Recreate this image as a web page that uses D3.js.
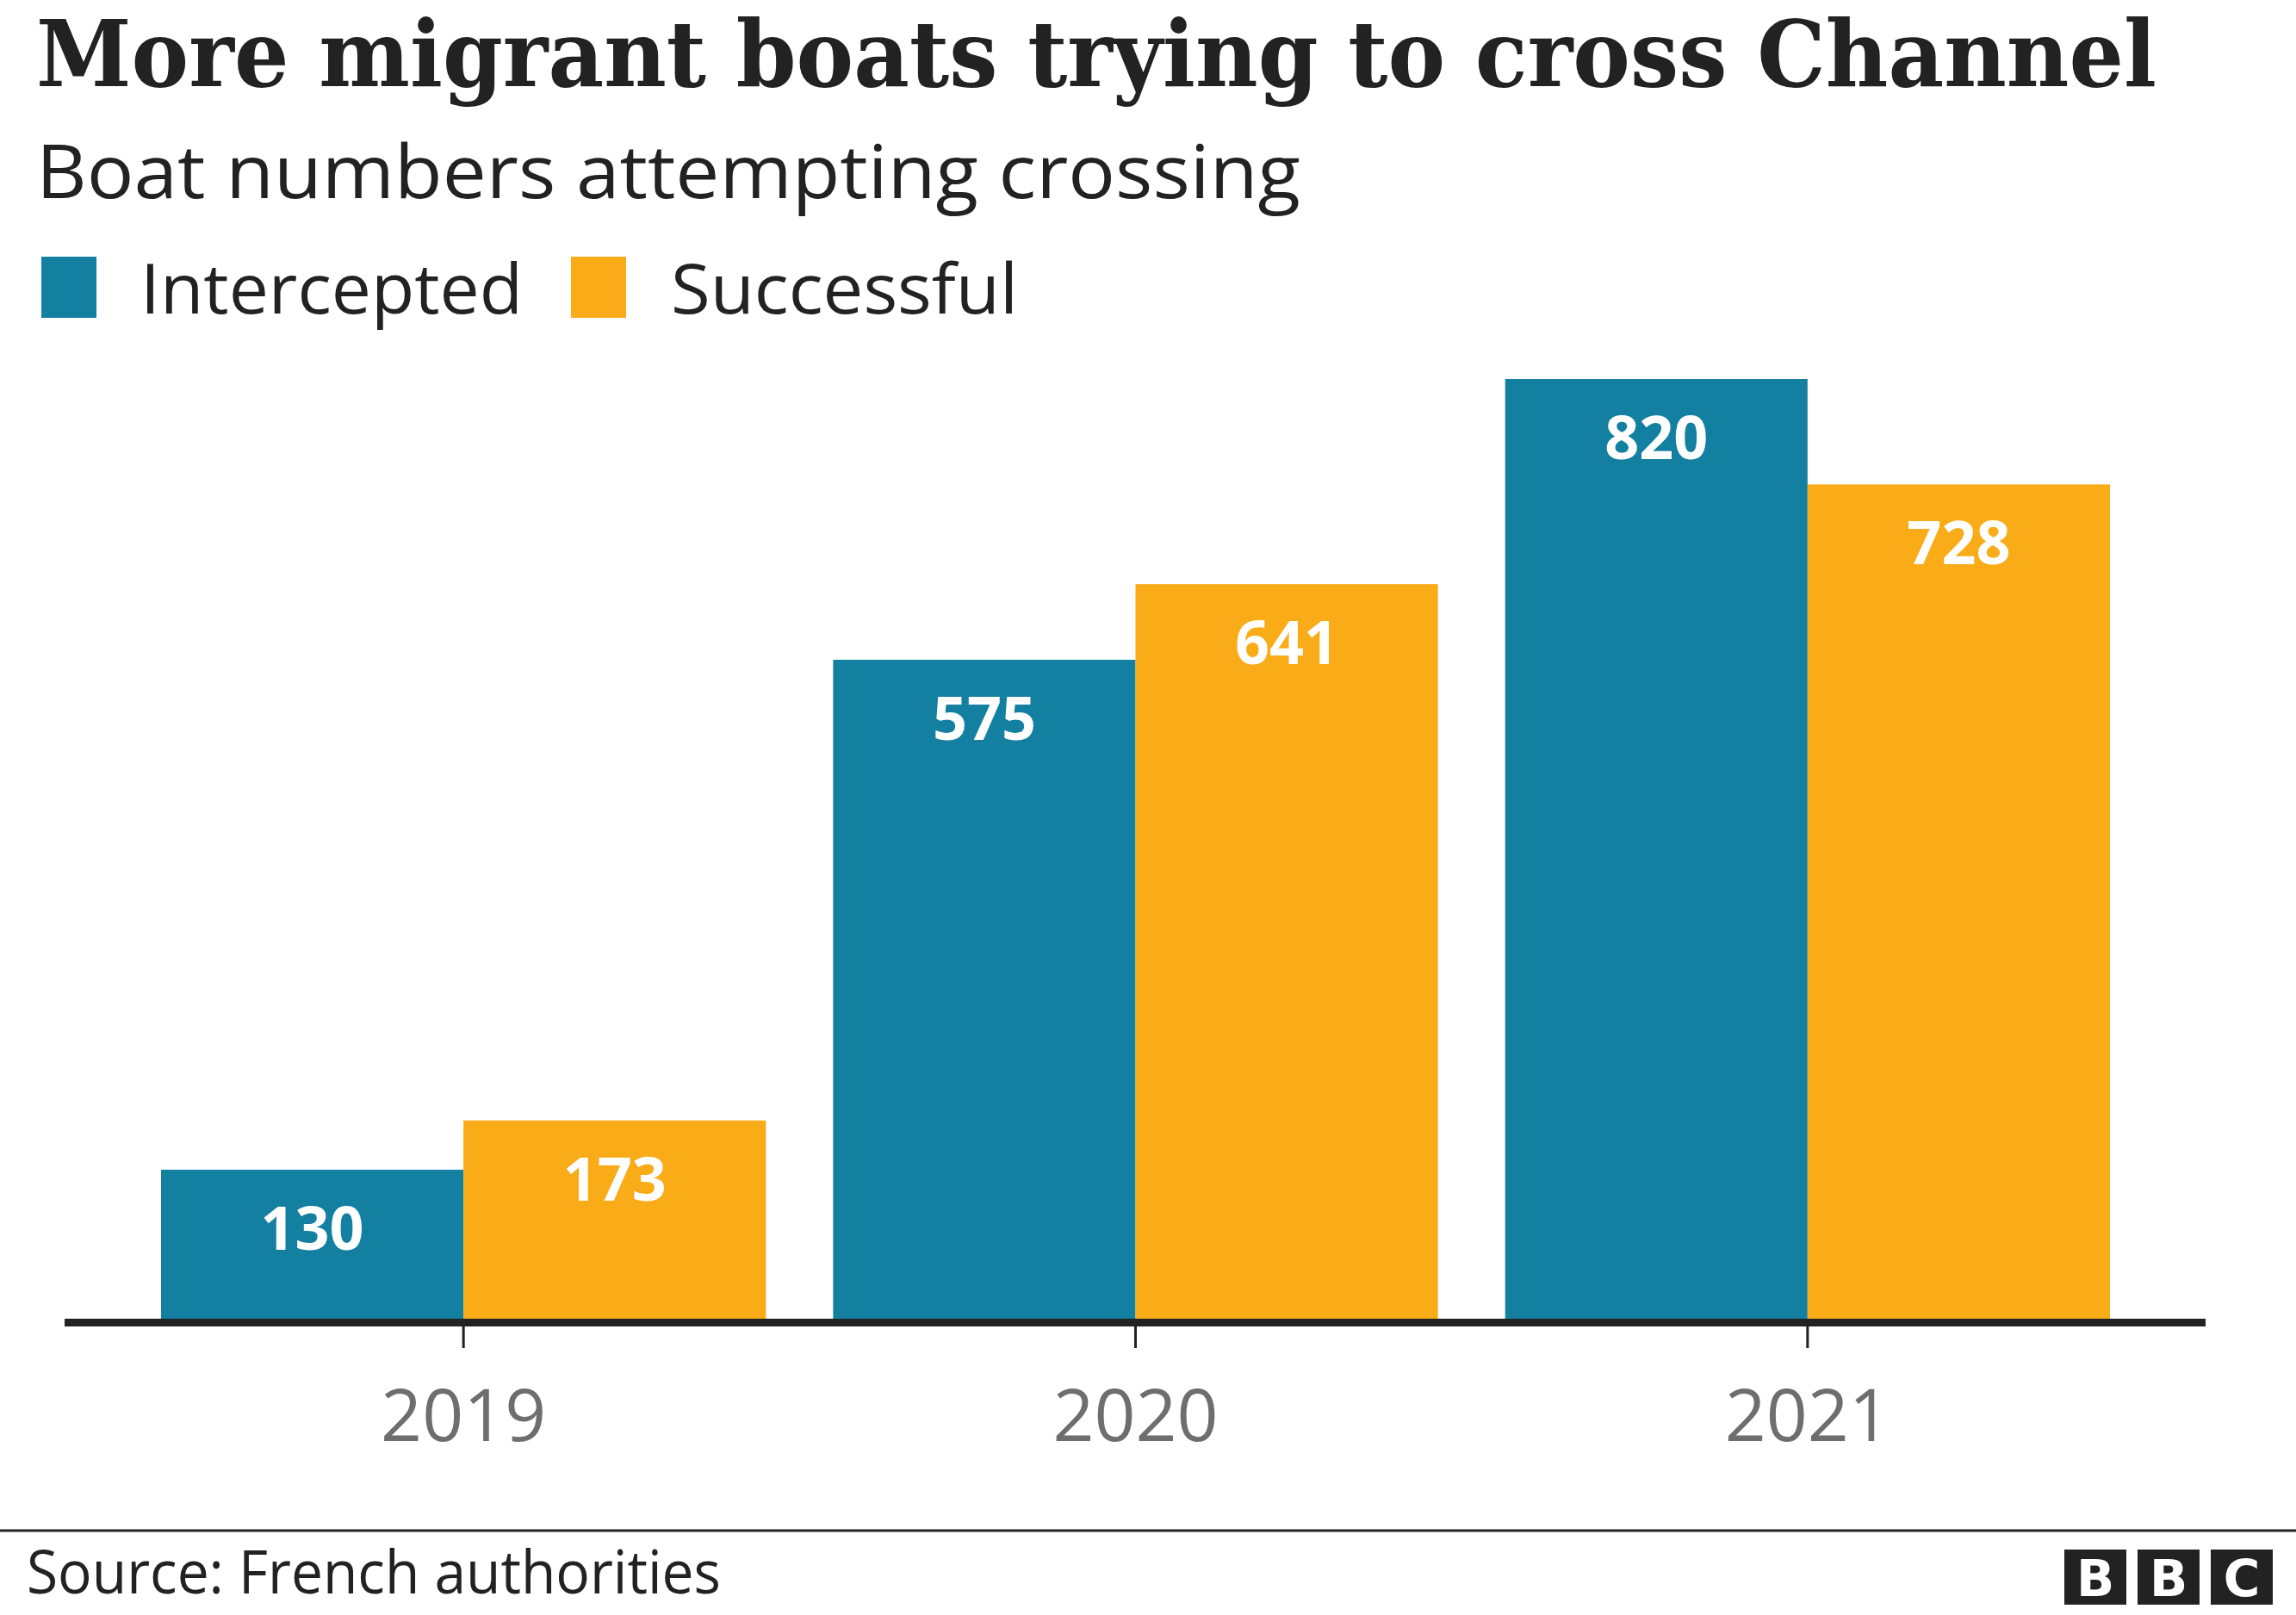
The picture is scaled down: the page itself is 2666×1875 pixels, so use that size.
<!DOCTYPE html>
<html>
<head>
<meta charset="utf-8">
<script src="https://cdn.jsdelivr.net/npm/d3@7"></script>
<style>
  html, body { margin: 0; padding: 0; background: #ffffff; }
  svg { display: block; }
</style>
</head>
<body>
<script>
// ---- Data ----
const years = ["2019", "2020", "2021"];
const seriesNames = ["Intercepted", "Successful"];
const intercepted = [130, 575, 820];
const successful = [173, 641, 728];
const seriesColors = ["#1380A1", "#FAAB18"];

const titleText = "More migrant boats trying to cross Channel";
const subtitleText = "Boat numbers attempting crossing";
const sourceText = "Source: French authorities";

// ---- Layout ----
const W = 2666, H = 1875;
const sansFont = "'Open Sans', 'Noto Sans', sans-serif";
const serifFont = "'DejaVu Serif', 'Liberation Serif', serif";

const svg = d3.select("body").append("svg")
  .attr("width", W).attr("height", H)
  .attr("viewBox", `0 0 ${W} ${H}`);

svg.append("rect").attr("width", W).attr("height", H).attr("fill", "#ffffff");

// Title
svg.append("text")
  .attr("x", 42).attr("y", 100)
  .attr("font-family", serifFont)
  .attr("font-weight", "bold")
  .attr("font-size", 106)
  .attr("fill", "#222222")
  .attr("textLength", 2462)
  .attr("lengthAdjust", "spacingAndGlyphs")
  .text(titleText);

// Subtitle
svg.append("text")
  .attr("x", 42).attr("y", 230)
  .attr("font-family", sansFont)
  .attr("font-size", 86)
  .attr("fill", "#222222")
  .attr("textLength", 1468)
  .attr("lengthAdjust", "spacingAndGlyphs")
  .text(subtitleText);

// Legend
const legendItems = [
  { name: seriesNames[0], color: seriesColors[0], sx: 48, tx: 163, tl: 444 },
  { name: seriesNames[1], color: seriesColors[1], sx: 663, tx: 779, tl: 403 }
];
const lg = svg.append("g");
legendItems.forEach(d => {
  lg.append("rect")
    .attr("x", d.sx).attr("y", 298)
    .attr("width", 64).attr("height", 71)
    .attr("fill", d.color);
  lg.append("text")
    .attr("x", d.tx).attr("y", 364)
    .attr("font-family", sansFont)
    .attr("font-size", 80)
    .attr("fill", "#222222")
    .attr("textLength", d.tl)
    .attr("lengthAdjust", "spacingAndGlyphs")
    .text(d.name);
});

// Scales
const baseY = 1531;
const x0 = d3.scaleBand()
  .domain(years)
  .range([148, 2489])
  .paddingInner(0.1)
  .paddingOuter(0.05);

const x1 = d3.scaleBand()
  .domain(seriesNames)
  .range([0, x0.bandwidth()])
  .padding(0);

const y = d3.scaleLinear()
  .domain([0, 820])
  .range([baseY, 440]);

const color = d3.scaleOrdinal().domain(seriesNames).range(seriesColors);

const rows = years.map((yr, i) => ({
  year: yr,
  values: [
    { key: seriesNames[0], value: intercepted[i] },
    { key: seriesNames[1], value: successful[i] }
  ]
}));

const groups = svg.append("g").selectAll("g")
  .data(rows).join("g")
  .attr("transform", d => `translate(${x0(d.year)},0)`);

groups.selectAll("rect")
  .data(d => d.values).join("rect")
  .attr("x", d => x1(d.key))
  .attr("y", d => y(d.value))
  .attr("width", x1.bandwidth())
  .attr("height", d => baseY - y(d.value))
  .attr("fill", d => color(d.key));

groups.selectAll("text.val")
  .data(d => d.values).join("text")
  .attr("class", "val")
  .attr("x", d => x1(d.key) + x1.bandwidth() / 2)
  .attr("y", d => y(d.value) + 93)
  .attr("text-anchor", "middle")
  .attr("font-family", sansFont)
  .attr("font-weight", "bold")
  .attr("font-size", 70)
  .attr("fill", "#ffffff")
  .text(d => d.value);

// X axis
const axisG = svg.append("g")
  .attr("transform", `translate(0,${baseY + 4})`)
  .call(d3.axisBottom(x0).tickSize(30).tickPadding(48).tickSizeOuter(0));
axisG.select(".domain").remove();
axisG.selectAll(".tick line")
  .attr("stroke", "#222222")
  .attr("stroke-width", 3);
axisG.selectAll(".tick text")
  .attr("font-family", sansFont)
  .attr("font-size", 84)
  .attr("fill", "#6e6e6e")
  .attr("dy", "0.71em");

svg.append("line")
  .attr("x1", 75).attr("x2", 2561)
  .attr("y1", baseY + 4.5).attr("y2", baseY + 4.5)
  .attr("stroke", "#222222")
  .attr("stroke-width", 9);

// Footer
svg.append("line")
  .attr("x1", 0).attr("x2", W)
  .attr("y1", 1777).attr("y2", 1777)
  .attr("stroke", "#222222")
  .attr("stroke-width", 3);

svg.append("text")
  .attr("x", 31).attr("y", 1850)
  .attr("font-family", sansFont)
  .attr("font-size", 70)
  .attr("fill", "#222222")
  .attr("textLength", 806)
  .attr("lengthAdjust", "spacingAndGlyphs")
  .text(sourceText);

// BBC logo
const logoLetters = ["B", "B", "C"];
const logo = svg.append("g").attr("transform", "translate(2397,1799)");
logoLetters.forEach((ch, i) => {
  logo.append("rect")
    .attr("x", i * 85).attr("y", 0)
    .attr("width", 72).attr("height", 64)
    .attr("fill", "#222222");
  logo.append("text")
    .attr("x", i * 85 + 36).attr("y", 54)
    .attr("text-anchor", "middle")
    .attr("font-family", "'DejaVu Sans', sans-serif")
    .attr("font-weight", "bold")
    .attr("font-size", 58)
    .attr("fill", "#ffffff")
    .text(ch);
});
</script>
</body>
</html>
